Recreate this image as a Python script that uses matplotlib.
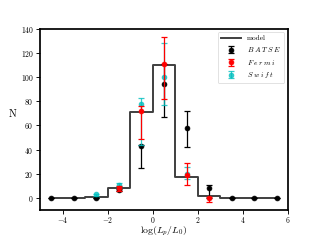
import matplotlib
matplotlib.use("Agg")
import matplotlib.pyplot as plt
import numpy as np

plt.rcParams['font.family'] = 'serif'
plt.rcParams['font.serif'] = ['cmr10', 'DejaVu Serif']
plt.rcParams['mathtext.fontset'] = 'cm'
plt.rcParams['axes.formatter.use_mathtext'] = True
plt.rcParams['axes.unicode_minus'] = True

# bin centres of log(Lp/L0)
centers = [-4.5, -3.5, -2.5, -1.5, -0.5, 0.5, 1.5, 2.5, 3.5, 4.5, 5.5]

# model histogram
model = [0, 0, 0.5, 8, 71, 110, 17, 2, 0.3, 0, 0]

# observed counts with (lower, upper) errors
batse_x = [-4.5, -3.5, -2.5, -1.5, -0.5, 0.5, 1.5, 2.5, 3.5, 4.5, 5.5]
batse_y = [0, 0, 0, 6.5, 43, 94.5, 58, 8.5, 0, 0, 0]
batse_lo = [0, 0, 0, 1.0, 18.5, 27.5, 15.5, 8.5, 0, 0, 0]
batse_hi = [0, 0, 0, 1.0, 1.0, 16, 14, 2.5, 0, 0, 0]

fermi_x = [-1.5, -0.5, 0.5, 1.5, 2.5]
fermi_y = [8.5, 72, 111, 19, 0]
fermi_lo = [3.0, 23.5, 29, 8.5, 3.0]
fermi_hi = [1.5, 4.0, 22, 10, 0.5]

swift_x = [-2.5, -1.5, -0.5, 0.5, 1.5]
swift_y = [3, 11, 77.5, 100, 20]
swift_lo = [1.0, 1.0, 33.5, 23, 4]
swift_hi = [0.5, 1.0, 5.0, 28.5, 6]

fig, ax = plt.subplots(figsize=(6.4, 4.8), dpi=50)
fig.subplots_adjust(bottom=0.125)

ax.step(centers, model, where='mid', color='k', alpha=0.75, lw=2.8, label='model', zorder=1)
ax.errorbar(batse_x, batse_y, yerr=[batse_lo, batse_hi], fmt='o', color='k', ms=7,
            capsize=4.5, elinewidth=1.8, capthick=1.8, label=r'$B\;A\;T\;S\;E$', zorder=2)
ax.errorbar(fermi_x, fermi_y, yerr=[fermi_lo, fermi_hi], fmt='o', color='r', ms=7,
            capsize=4.5, elinewidth=1.8, capthick=1.8, label=r'$F\;e\;r\;m\;i$', zorder=3)
ax.errorbar(swift_x, swift_y, yerr=[swift_lo, swift_hi], fmt='o', color='c', ms=7,
            capsize=4.5, elinewidth=1.8, capthick=1.8, alpha=0.8, label=r'$S\;w\;i\;f\;t$', zorder=2.5)

ax.set_xlim(-5, 6)
ax.set_ylim(-10, 140)
ax.set_xticks([-4, -2, 0, 2, 4, 6])
ax.set_yticks(range(0, 141, 20))
ax.tick_params(labelsize=11, length=5.5, width=1.3)
ax.tick_params(axis='x', pad=2)
for s in ax.spines.values():
    s.set_linewidth(2.5)

ax.set_xlabel(r'$\log(L_p/L_0)$', fontsize=14, va='center')
ax.xaxis.set_label_coords(0.5, -0.12)
ax.set_ylabel('N', fontsize=15, rotation=0, labelpad=12)
ax.legend(loc='upper right', fontsize=10.5, handlelength=2.8)

fig.savefig('out.png', dpi=50)
